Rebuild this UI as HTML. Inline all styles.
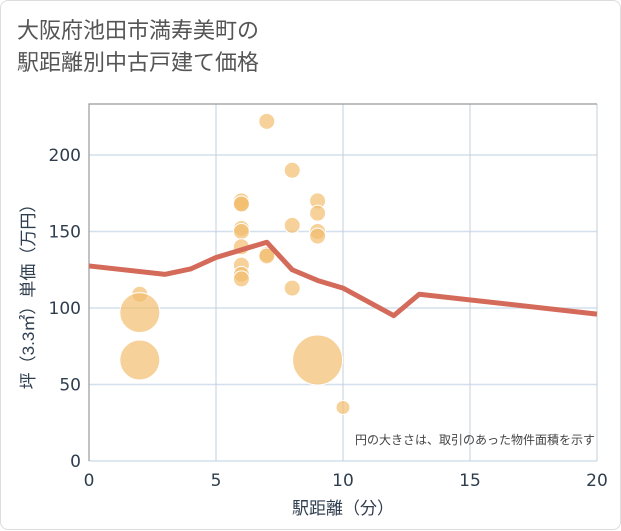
<!DOCTYPE html>
<html><head><meta charset="utf-8">
<style>
html,body{margin:0;padding:0;background:#fff;}
body{width:621px;height:530px;overflow:hidden;font-family:"Liberation Sans","Noto Sans CJK JP",sans-serif;}
.card{position:absolute;left:0;top:0;width:619px;height:528px;border:1px solid #ddd;border-radius:8px;background:#fff;}
.title{position:absolute;left:16px;top:14px;font-size:22px;line-height:32px;color:#555;}
</style></head><body>
<div class="card">
<div class="title">大阪府池田市満寿美町の<br>駅距離別中古戸建て価格</div>
<svg id="chart" width="621" height="530" style="position:absolute;left:0;top:0"></svg>
</div>
<script>
const xTicks=[0,5,10,15,20];
const yTicks=[0,50,100,150,200];
const bubbleX=[2,2,2,6,6,6,6,6,6,6,6,6,7,7,7,8,8,8,9,9,9,9,9,10];
const bubbleY=[109,97,66,170,168,152,150,140,128,122,119,168,222,135,134,190,154,113,170,162,150,147,66,35];
const bubbleR=[8,20,20,8,8,8,8,8,8,8,8,8,8,8,8,8,8,8,8,8,8,8,25,7];
const lineX=[0,3,4,5,7,8,9,10,12,13,20];
const lineY=[127.5,122,125.5,133,143,125,118,113,95,109,96];
const NS="http://www.w3.org/2000/svg";
const svg=document.getElementById('chart');
const L=88,R=596,T=103,B=460;
const sx=v=>L+(v-0)/(20-0)*(R-L);
const sy=v=>B-v/200*(B-154);
const TF='"DejaVu Sans","Liberation Sans",sans-serif';
function mk(t,a){const e=document.createElementNS(NS,t);for(const k in a)e.setAttribute(k,a[k]);svg.appendChild(e);return e;}
yTicks.forEach(v=>{
 const g=mk('line',{x1:L,x2:R,y1:sy(v),y2:sy(v),stroke:'#d3e0eb','stroke-width':1.5});
 
 
 const t=mk('text',{x:L-8,y:sy(v)+6,'text-anchor':'end','font-size':17,fill:'#2f3e4e','font-family':TF});
 t.textContent=v;
 
 
});
xTicks.forEach(v=>{
 const g=mk('line',{x1:sx(v),x2:sx(v),y1:T,y2:B,stroke:'#c5cfd9','stroke-width':1});
 
 
 const t=mk('text',{x:sx(v),y:B+25,'text-anchor':'middle','font-size':17,fill:'#2f3e4e','font-family':TF});
 t.textContent=v;
 
 
});
const fr=mk('path',{d:`M${R} ${T}H${L}V${B}`,stroke:'#999',fill:'none','stroke-width':1.2});


bubbleX.forEach((x,i)=>{
 const c=mk('circle',{cx:sx(x),cy:sy(bubbleY[i]),r:bubbleR[i],fill:'rgba(242,190,110,0.7)',stroke:'#fff','stroke-width':1});
 
 
});
const p=mk('polyline',{points:lineX.map((x,i)=>sx(x)+','+sy(lineY[i])).join(' '),fill:'none',stroke:'#d46b5a','stroke-width':5,'stroke-linejoin':'round'});


const n=mk('text',{x:594,y:443,'text-anchor':'end','font-size':12,fill:'#444'});
n.textContent='円の大きさは、取引のあった物件面積を示す';


const xt=mk('text',{x:(L+R)/2,y:513,'text-anchor':'middle','font-size':17,fill:'#2f3e4e'});
xt.textContent='駅距離（分）';


const yt=mk('text',{x:0,y:0,'text-anchor':'middle','font-size':17,fill:'#2f3e4e',transform:`translate(33,${(T+B)/2+10}) rotate(-90)`});
yt.textContent='坪（3.3㎡）単価（万円）';


</script>
</body></html>
